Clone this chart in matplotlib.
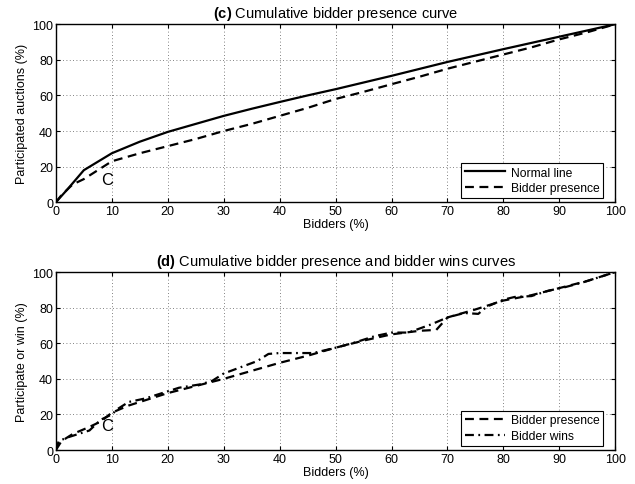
import numpy as np
import matplotlib
matplotlib.use("Agg")
import matplotlib.pyplot as plt

plt.rcParams['font.family'] = ['Liberation Sans', 'DejaVu Sans']
plt.rcParams['mathtext.fontset'] = 'custom'
plt.rcParams['mathtext.rm'] = 'Liberation Sans'
plt.rcParams['mathtext.bf'] = 'Liberation Sans:bold'

# (c) cumulative bidder presence
normal_x = [0, 2, 5, 10, 15, 20, 25, 30, 35, 40, 45, 50, 60, 70, 80, 90, 100]
normal_y = [0, 7, 18, 27.5, 34, 39.5, 44, 48.5, 52.5, 56.3, 60, 63.5, 71, 78.8, 86, 93, 100]

presence_c_x = [0, 1, 3, 5, 7, 10, 15, 20, 25, 30, 35, 40, 45, 50, 55, 60, 65, 70, 75, 80, 85, 90, 95, 100]
presence_c_y = [0, 4, 10, 13, 17, 23, 27.5, 31.5, 35.5, 40, 44, 48.5, 53, 58, 62, 66.3, 70.5, 75, 79, 83, 87, 91.5, 95.5, 100]

# (d) presence vs wins
presence_d_x = [0, 1, 3, 6, 8, 10, 13, 16, 20, 25, 30, 35, 40, 45, 50, 55, 60, 65, 68, 70, 75, 80, 85, 90, 95, 100]
presence_d_y = [0, 5, 9, 13, 16, 21, 25, 28, 32, 36, 40, 44.5, 49, 53, 57.5, 61.5, 65, 67, 67.5, 74.5, 79, 84, 87, 91, 95, 100]

wins_x = [0, 0.5, 2, 4, 6, 8, 10, 11, 13, 16, 20, 22, 26, 28, 30, 33, 36, 38, 40, 46, 50, 53, 57, 60, 63, 67, 70,
          73, 75.5, 77, 80, 82, 85, 88, 91, 94, 96, 100]
wins_y = [0, 5, 7, 9, 11, 17, 20, 23, 27, 29, 33, 35, 37, 39, 43, 46.5, 50, 54, 54.5, 54.5, 57.5, 60, 64, 66, 66,
          70.5, 74.5, 77, 76.5, 80.5, 84.5, 86, 86.5, 89.5, 91.5, 94, 96, 100]

ticks = np.arange(0, 101, 10)
yticks = np.arange(0, 101, 20)


def style_axes(ax, ylabel, title_tag, title):
    ax.set_xlim(0, 100)
    ax.set_ylim(0, 100)
    ax.set_xticks(ticks)
    ax.set_yticks(yticks)
    ax.tick_params(direction='in', top=True, right=True, labelsize=9, length=3, width=0.8, pad=2)
    ax.grid(True, linestyle=(0, (1, 3)), color='0.35', linewidth=0.6)
    for s in ax.spines.values():
        s.set_linewidth(1.0)
    ax.set_xlabel('Bidders (%)', fontsize=9, labelpad=1)
    ax.set_ylabel(ylabel, fontsize=9, labelpad=3)
    ax.set_title(r'$\bf{' + title_tag + '}$ ' + title, fontsize=10.5, pad=5)


def add_legend(ax):
    leg = ax.legend(loc='lower right', bbox_to_anchor=(0.978, 0.025), borderaxespad=0,
                    fontsize=8.7, handlelength=3.3, fancybox=False, framealpha=1,
                    edgecolor='black', borderpad=0.3, labelspacing=0.3, handletextpad=0.5)
    leg.get_frame().set_linewidth(0.8)


fig = plt.figure(figsize=(6.35, 4.85), dpi=100)
ax1 = fig.add_axes([0.088, 0.581, 0.881, 0.367])
ax2 = fig.add_axes([0.088, 0.070, 0.881, 0.367])

ax1.plot(normal_x, normal_y, color='black', linewidth=1.6, label='Normal line')
ax1.plot(presence_c_x, presence_c_y, color='black', linewidth=1.6, linestyle=(0, (4, 2.5)), label='Bidder presence')
ax1.text(9.2, 13, 'C', fontsize=12, ha='center', va='center')
style_axes(ax1, 'Participated auctions (%)', '(c)', 'Cumulative bidder presence curve')
add_legend(ax1)

ax2.plot(presence_d_x, presence_d_y, color='black', linewidth=1.6, linestyle=(0, (4, 2.5)), label='Bidder presence')
ax2.plot(wins_x, wins_y, color='black', linewidth=1.6, linestyle=(0, (4, 2, 0.8, 2)), label='Bidder wins')
ax2.text(9.2, 13.6, 'C', fontsize=12, ha='center', va='center')
style_axes(ax2, 'Participate or win (%)', '(d)', 'Cumulative bidder presence and bidder wins curves')
add_legend(ax2)

fig.savefig('out.png', dpi=100)
